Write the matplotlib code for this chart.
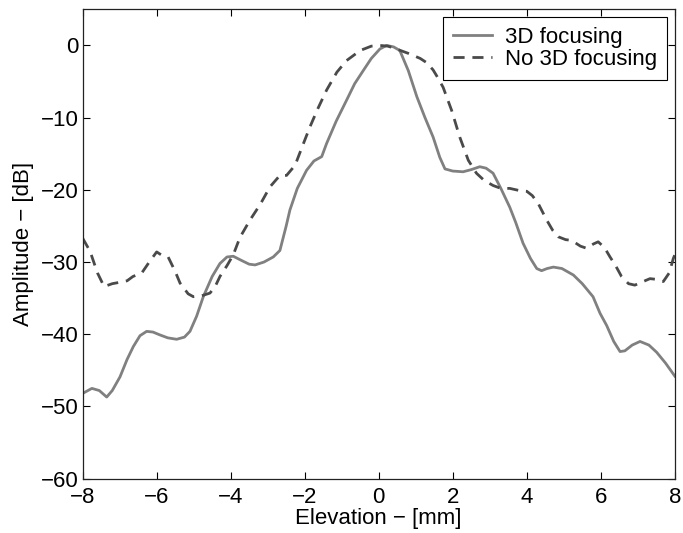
import matplotlib
matplotlib.use("Agg")
import matplotlib.pyplot as plt

plt.rcParams['font.family'] = ['Liberation Sans', 'DejaVu Sans']

x_focus = [-8.0, -7.75, -7.55, -7.35, -7.2, -6.99, -6.8, -6.63, -6.45, -6.27, -6.1, -5.91,
           -5.7, -5.46, -5.25, -5.1, -4.92, -4.74, -4.5, -4.29, -4.1, -3.93, -3.7, -3.5,
           -3.34, -3.1, -2.85, -2.67, -2.5, -2.4, -2.2, -1.95, -1.75, -1.54, -1.41, -1.15,
           -0.87, -0.65, -0.42, -0.2, 0.03, 0.21, 0.4, 0.57, 0.8, 1.03, 1.25, 1.47, 1.65,
           1.79, 2.0, 2.28, 2.5, 2.73, 2.9, 3.09, 3.3, 3.54, 3.7, 3.9, 4.1, 4.27, 4.4,
           4.55, 4.72, 4.95, 5.26, 5.5, 5.79, 5.98, 6.16, 6.35, 6.52, 6.65, 6.85, 7.06,
           7.3, 7.51, 7.75, 8.0]
y_focus = [-48.2, -47.5, -47.8, -48.7, -47.8, -45.9, -43.5, -41.7, -40.2, -39.6, -39.7, -40.1,
           -40.5, -40.7, -40.4, -39.6, -37.5, -34.8, -32.0, -30.2, -29.3, -29.2, -29.8, -30.3,
           -30.4, -30.0, -29.3, -28.4, -25.0, -22.8, -19.8, -17.3, -16.0, -15.4, -13.6, -10.5,
           -7.6, -5.3, -3.5, -1.8, -0.5, 0.0, -0.2, -0.7, -3.5, -7.1, -10.0, -12.7, -15.5,
           -17.1, -17.4, -17.5, -17.2, -16.8, -17.0, -17.7, -19.8, -22.4, -24.5, -27.4, -29.5, -30.9, -31.2,
           -30.9, -30.7, -30.9, -31.8, -33.0, -34.8, -37.1, -38.8, -41.0, -42.4, -42.3, -41.5, -41.0,
           -41.5, -42.5, -44.0, -45.8]

x_nofocus = [-8.0, -7.8, -7.6, -7.42, -7.2, -6.99, -6.8, -6.64, -6.4, -6.2, -6.0, -5.85, -5.69,
             -5.5, -5.37, -5.15, -5.01, -4.8, -4.56, -4.42, -4.29, -4.1, -3.93, -3.75, -3.48,
             -3.2, -2.94, -2.67, -2.49, -2.26, -2.05, -1.86, -1.64, -1.41, -1.13, -0.87, -0.5,
             -0.2, 0.03, 0.25, 0.48, 0.8, 1.12, 1.3, 1.47, 1.6, 1.74, 1.97, 2.19, 2.42, 2.64,
             2.85, 3.09, 3.3, 3.54, 3.8, 4.0, 4.15, 4.31, 4.54, 4.7, 4.85, 5.05, 5.21, 5.45,
             5.62, 5.8, 5.93, 6.1, 6.25, 6.4, 6.56, 6.75, 6.92, 7.1, 7.33, 7.5, 7.69, 7.85,
             7.96, 8.0]
y_nofocus = [-26.7, -28.5, -31.5, -33.4, -33.0, -32.8, -32.6, -32.0, -31.5, -30.0, -28.6, -29.1, -29.3,
             -31.3, -32.9, -34.4, -34.8, -34.7, -34.3, -33.4, -32.0, -30.5, -29.0, -26.6, -24.2,
             -22.0, -19.6, -18.0, -18.0, -16.6, -13.8, -11.3, -8.7, -6.2, -3.7, -2.1, -0.7,
             -0.1, 0.0, -0.1, -0.5, -1.1, -1.8, -2.4, -3.4, -4.5, -5.8, -9.0, -12.7, -15.9, -17.7,
             -18.7, -19.4, -19.8, -19.8, -20.1, -20.2, -20.8, -21.9, -24.2, -25.6, -26.5, -26.9, -27.0, -27.8,
             -28.1, -27.5, -27.2, -28.0, -29.3, -30.5, -32.0, -33.0, -33.2, -32.8, -32.3, -32.4, -32.7, -31.5,
             -29.5, -29.0]

x_ticks = [-8, -6, -4, -2, 0, 2, 4, 6, 8]
y_ticks = [-60, -50, -40, -30, -20, -10, 0]

fig = plt.figure(figsize=(6.83, 5.33), dpi=100)
ax = fig.add_axes([0.121, 0.102, 0.867, 0.8805])

ax.plot(x_focus, y_focus, color='#808080', lw=2.0, label='3D focusing')
ax.plot(x_nofocus, y_nofocus, color='#4a4a4a', lw=2.0, linestyle=(0, (4, 2.8)),
        label='No 3D focusing')

ax.set_xlim(-8, 8)
ax.set_ylim(-60, 5)
ax.set_xticks(x_ticks)
ax.set_yticks(y_ticks)
ax.tick_params(direction='in', length=5, width=0.8, top=True, right=True,
               labelsize=16, colors='black')
ax.tick_params(axis='x', pad=6)
ax.tick_params(axis='y', pad=3)
for s in ax.spines.values():
    s.set_linewidth(0.9)
    s.set_color('#222222')

ax.set_xlabel('Elevation \u2212 [mm]', fontsize=16, labelpad=0)
ax.set_ylabel('Amplitude \u2212 [dB]', fontsize=16, labelpad=5)

leg = ax.legend(loc='upper right', fontsize=16, fancybox=False, framealpha=1,
                edgecolor='black', borderaxespad=0.35, handlelength=1.75,
                borderpad=0.45, labelspacing=0.02, handletextpad=0.6)
leg.get_frame().set_linewidth(0.8)

fig.savefig('out.png', dpi=100, facecolor='white')
